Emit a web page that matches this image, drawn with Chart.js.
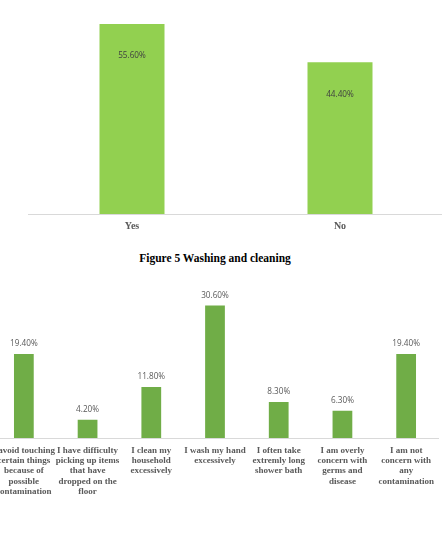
<!DOCTYPE html>
<html>
<head>
<meta charset="utf-8">
<script src="https://cdn.jsdelivr.net/npm/chart.js@4.4.1/dist/chart.umd.min.js"></script>
<style>
  html, body { margin:0; padding:0; background:#fff; overflow:hidden; }
  body { width:442px; height:538px; position:relative; }
  #box1 { position:absolute; left:0; top:0; width:460px; height:244px; }
  #box2 { position:absolute; left:-20px; top:275px; width:470px; height:263px; }
  #caption { position:absolute; left:0; top:252px; width:430px; text-align:center;
             font: bold 11.5px "Liberation Serif"; color:#000; }
</style>
</head>
<body>
<div id="box1"><canvas id="chart1"></canvas></div>
<div id="caption">Figure 5 Washing and cleaning</div>
<div id="box2"><canvas id="chart2"></canvas></div>
<script>
// top chart
const answerLabels = ['Yes', 'No'];
const answerValues = [55.6, 44.4];

// bottom chart
const behaviourLabels = [
  ['I avoid touching', 'certain things', 'because of', 'possible', 'contamination'],
  ['I have difficulty', 'picking up items', 'that have', 'dropped on the', 'floor'],
  ['I clean my', 'household', 'excessively'],
  ['I wash my hand', 'excessively'],
  ['I often take', 'extremly long', 'shower bath'],
  ['I am overly', 'concern with', 'germs and', 'disease'],
  ['I am not', 'concern with', 'any', 'contamination']
];
const behaviourValues = [19.4, 4.2, 11.8, 30.6, 8.3, 6.3, 19.4];

/* writes the percentage on each bar */
const valueLabels = {
  id: 'valueLabels',
  afterDatasetsDraw(chart, args, opts) {
    const c = chart.ctx;
    const meta = chart.getDatasetMeta(0);
    c.save();
    c.font = opts.font;
    c.fillStyle = opts.color;
    c.textAlign = 'center';
    c.textBaseline = 'middle';
    meta.data.forEach((bar, i) => {
      const v = chart.data.datasets[0].data[i];
      c.fillText(v.toFixed(2) + '%', bar.x, bar.y + opts.offset);
    });
    c.restore();
  }
};

function xAxis(height, padding, size) {
  return {
    grid: { display: false, drawTicks: false },
    border: { display: true, color: '#d9d9d9', width: 1 },
    ticks: {
      color: '#595959', autoSkip: false, maxRotation: 0, padding: padding,
      font: { family: 'Liberation Serif', weight: 'bold', size: size, lineHeight: 1.15 }
    },
    afterFit(s) { s.height = height; s.paddingLeft = 0; s.paddingRight = 0; }
  };
}

new Chart(document.getElementById('chart1'), {
  type: 'bar',
  data: {
    labels: answerLabels,
    datasets: [{
      data: answerValues,
      backgroundColor: '#92D050',
      barPercentage: 1,
      categoryPercentage: 0.3125
    }]
  },
  options: {
    responsive: true,
    maintainAspectRatio: false,
    animation: false,
    devicePixelRatio: 1,
    layout: { padding: { left: 28, right: 16, top: 9, bottom: 0 } },
    plugins: {
      legend: { display: false },
      tooltip: { enabled: false },
      valueLabels: { font: '8.2px "Open Sans"', color: '#404040', offset: 32 }
    },
    scales: {
      x: xAxis(30, 7, 10),
      y: { display: false, min: 0, max: 60 }
    }
  },
  plugins: [valueLabels]
});

new Chart(document.getElementById('chart2'), {
  type: 'bar',
  data: {
    labels: behaviourLabels,
    datasets: [{
      data: behaviourValues,
      backgroundColor: '#70AD47',
      barPercentage: 1,
      categoryPercentage: 0.31
    }]
  },
  options: {
    responsive: true,
    maintainAspectRatio: false,
    animation: false,
    devicePixelRatio: 1,
    layout: { padding: { left: 12, right: 12, top: 11.5, bottom: 0 } },
    plugins: {
      legend: { display: false },
      tooltip: { enabled: false },
      valueLabels: { font: '8.2px "Open Sans"', color: '#595959', offset: -10 }
    },
    scales: {
      x: xAxis(100, 7, 9),
      y: { display: false, min: 0, max: 35 }
    }
  },
  plugins: [valueLabels]
});
</script>
</body>
</html>
